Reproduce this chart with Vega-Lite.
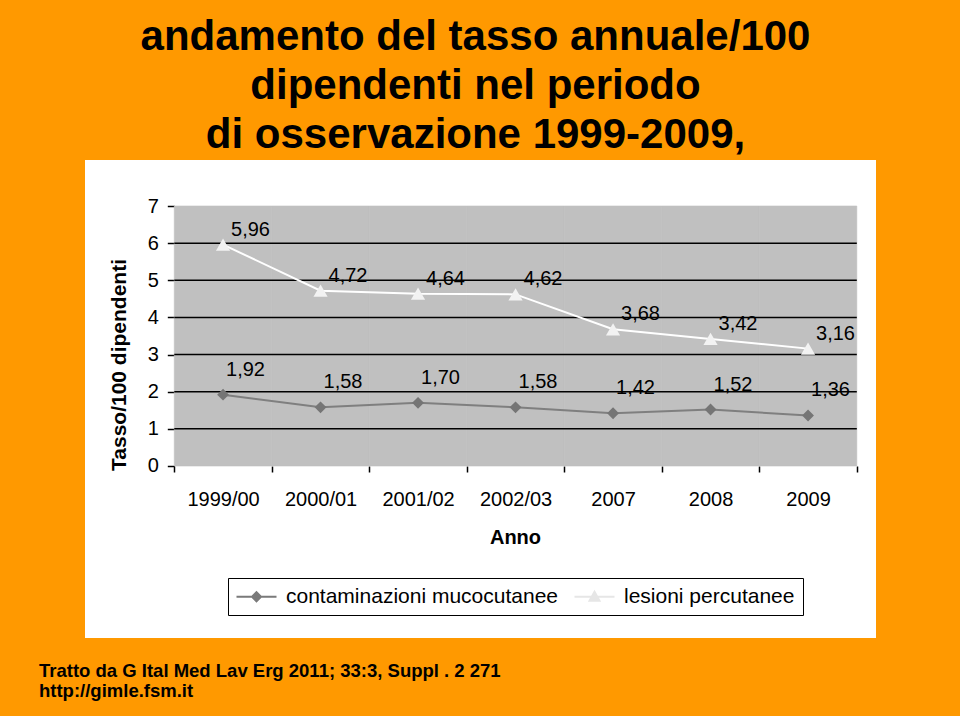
{
  "$schema": "https://vega.github.io/schema/vega-lite/v6.json",
  "autosize": {"type": "none"},
  "padding": {"left": 85, "top": 160, "right": 84, "bottom": 78},
  "width": 791,
  "height": 478,
  "background": "#FF9900",
  "title": {
    "text": ["andamento del tasso annuale/100", "dipendenti nel periodo", "di osservazione 1999-2009,"],
    "font": "Liberation Sans",
    "fontSize": 42,
    "fontWeight": "bold",
    "color": "#000000",
    "anchor": "middle",
    "frame": "group",
    "baseline": "alphabetic",
    "lineHeight": 49,
    "offset": 10,
    "dx": -5,
    "dy": 40
  },
  "datasets": {
    "tassi": [
      {"anno": "1999/00", "serie": "contaminazioni mucocutanee", "tasso": 1.92},
      {"anno": "2000/01", "serie": "contaminazioni mucocutanee", "tasso": 1.58},
      {"anno": "2001/02", "serie": "contaminazioni mucocutanee", "tasso": 1.70},
      {"anno": "2002/03", "serie": "contaminazioni mucocutanee", "tasso": 1.58},
      {"anno": "2007", "serie": "contaminazioni mucocutanee", "tasso": 1.42},
      {"anno": "2008", "serie": "contaminazioni mucocutanee", "tasso": 1.52},
      {"anno": "2009", "serie": "contaminazioni mucocutanee", "tasso": 1.36},
      {"anno": "1999/00", "serie": "lesioni percutanee", "tasso": 5.96},
      {"anno": "2000/01", "serie": "lesioni percutanee", "tasso": 4.72},
      {"anno": "2001/02", "serie": "lesioni percutanee", "tasso": 4.64},
      {"anno": "2002/03", "serie": "lesioni percutanee", "tasso": 4.62},
      {"anno": "2007", "serie": "lesioni percutanee", "tasso": 3.68},
      {"anno": "2008", "serie": "lesioni percutanee", "tasso": 3.42},
      {"anno": "2009", "serie": "lesioni percutanee", "tasso": 3.16}
    ],
    "griglia": [{"v": 1}, {"v": 2}, {"v": 3}, {"v": 4}, {"v": 5}, {"v": 6}],
    "vuoto": []
  },
  "data": {"name": "tassi"},
  "encoding": {
    "x": {
      "field": "anno",
      "type": "nominal",
      "sort": null,
      "title": "Anno",
      "scale": {
        "type": "band",
        "domain": ["1999/00", "2000/01", "2001/02", "2002/03", "2007", "2008", "2009"],
        "paddingInner": 0,
        "paddingOuter": 0.5564,
        "align": 0.823
      },
      "axis": {
        "title": "Anno",
        "offset": -172,
        "domain": false,
        "grid": false,
        "tickBand": "extent",
        "tickSize": 6,
        "tickColor": "#000000",
        "tickWidth": 1.5,
        "labelAngle": 0,
        "labelFont": "Liberation Sans",
        "labelFontSize": 20,
        "labelColor": "#000000",
        "labelPadding": 17,
        "labelOverlap": false,
        "titleFont": "Liberation Sans",
        "titleFontSize": 20,
        "titleFontWeight": "bold",
        "titleColor": "#000000",
        "titleX": 430,
        "titleY": 77,
        "titleBaseline": "alphabetic",
        "titleAlign": "center"
      }
    },
    "y": {
      "field": "tasso",
      "type": "quantitative",
      "title": "Tasso/100 dipendenti",
      "scale": {"domain": [-4.631, 8.2385], "nice": false, "zero": false},
      "axis": {
        "title": "Tasso/100 dipendenti",
        "values": [0, 1, 2, 3, 4, 5, 6, 7],
        "format": "d",
        "offset": -89.3,
        "domain": false,
        "grid": false,
        "tickSize": 7,
        "tickColor": "#000000",
        "tickWidth": 1.5,
        "labelFont": "Liberation Sans",
        "labelFontSize": 20,
        "labelColor": "#000000",
        "labelPadding": 9,
        "labelFlush": false,
        "labelOverlap": false,
        "titleFont": "Liberation Sans",
        "titleFontSize": 21,
        "titleFontWeight": "bold",
        "titleColor": "#000000",
        "titleAngle": -90,
        "titleX": -48.8,
        "titleY": 204.5,
        "titleBaseline": "alphabetic",
        "titleAlign": "center"
      }
    }
  },
  "layer": [
    {
      "transform": [{"filter": "datum.serie === 'lesioni percutanee'"}],
      "mark": {"type": "bar", "fill": "#c0c0c0", "stroke": "#c0c0c0", "strokeWidth": 0.6},
      "encoding": {
        "y": {"datum": 7, "type": "quantitative"},
        "y2": {"datum": 0}
      }
    },
    {
      "data": {"name": "griglia"},
      "mark": {"type": "rule", "color": "#000000", "strokeWidth": 1.5},
      "encoding": {
        "x": {"datum": "1999/00", "type": "nominal", "bandPosition": 0},
        "x2": {"datum": "2009", "bandPosition": 1},
        "y": {"field": "v", "type": "quantitative", "title": "Tasso/100 dipendenti"}
      }
    },
    {
      "data": {"values": [{"bordo": "alto"}]},
      "mark": {"type": "rule", "color": "#a0a0a0", "strokeWidth": 1.5},
      "encoding": {
        "x": {"datum": "1999/00", "type": "nominal", "bandPosition": 0},
        "x2": {"datum": "2009", "bandPosition": 1},
        "y": {"datum": 7, "type": "quantitative"}
      }
    },
    {
      "data": {"values": [{"bordo": "destra"}]},
      "mark": {"type": "rule", "color": "#8a8a8a", "strokeWidth": 1.5},
      "encoding": {
        "x": {"datum": "2009", "type": "nominal", "bandPosition": 1},
        "y": {"datum": 0, "type": "quantitative"},
        "y2": {"datum": 7}
      }
    },
    {
      "data": {"values": [{"bordo": "asse x"}]},
      "mark": {"type": "rule", "color": "#000000", "strokeWidth": 2},
      "encoding": {
        "x": {"datum": "1999/00", "type": "nominal", "bandPosition": 0},
        "x2": {"datum": "2009", "bandPosition": 1},
        "y": {"datum": 0, "type": "quantitative"}
      }
    },
    {
      "data": {"values": [{"bordo": "asse y"}]},
      "mark": {"type": "rule", "color": "#000000", "strokeWidth": 2},
      "encoding": {
        "x": {"datum": "1999/00", "type": "nominal", "bandPosition": 0},
        "y": {"datum": 0, "type": "quantitative"},
        "y2": {"datum": 7}
      }
    },
    {
      "transform": [{"filter": "datum.serie === 'contaminazioni mucocutanee'"}],
      "mark": {"type": "line", "color": "#7f7f7f", "strokeWidth": 2}
    },
    {
      "transform": [{"filter": "datum.serie === 'lesioni percutanee'"}],
      "mark": {"type": "line", "color": "#ffffff", "strokeWidth": 2}
    },
    {
      "transform": [{"filter": "datum.serie === 'contaminazioni mucocutanee'"}],
      "mark": {"type": "point", "shape": "diamond", "filled": true, "size": 140, "color": "#757575", "opacity": 1}
    },
    {
      "transform": [{"filter": "datum.serie === 'lesioni percutanee'"}],
      "mark": {"type": "point", "shape": "triangle-up", "filled": true, "size": 200, "color": "#f2f2f2", "opacity": 1}
    },
    {
      "transform": [{"filter": "datum.serie === 'contaminazioni mucocutanee'"}],
      "mark": {"type": "text", "align": "left", "baseline": "middle", "dx": 3, "dy": -25, "font": "Liberation Sans", "fontSize": 20, "color": "#000000"},
      "encoding": {"text": {"field": "tasso", "type": "quantitative", "format": ".2f"}}
    },
    {
      "transform": [{"filter": "datum.serie === 'lesioni percutanee'"}],
      "mark": {"type": "text", "align": "left", "baseline": "middle", "dx": 8, "dy": -15, "font": "Liberation Sans", "fontSize": 20, "color": "#000000"},
      "encoding": {"text": {"field": "tasso", "type": "quantitative", "format": ".2f"}}
    },
    {
      "data": {"name": "vuoto"},
      "mark": {"type": "point", "filled": true, "opacity": 1, "strokeWidth": 2, "size": 100},
      "encoding": {
        "fill": {
          "field": "serie",
          "type": "nominal",
          "scale": {"domain": ["contaminazioni mucocutanee", "lesioni percutanee"], "range": ["#7a7a7a", "#e6e6e6"]},
          "legend": {
            "title": null,
            "orient": "none",
            "legendX": 143,
            "legendY": 418,
            "direction": "horizontal",
            "fillColor": "#ffffff",
            "strokeColor": "#000000",
            "padding": 8,
            "columnPadding": 12,
            "labelOffset": 29,
            "labelFont": "Liberation Sans",
            "labelFontSize": 21,
            "labelColor": "#000000",
            "labelLimit": 400,
            "symbolSize": 100,
            "symbolStrokeWidth": 2,
            "symbolOpacity": 1
          }
        },
        "stroke": {
          "field": "serie",
          "type": "nominal",
          "scale": {"domain": ["contaminazioni mucocutanee", "lesioni percutanee"], "range": ["#7a7a7a", "#e6e6e6"]}
        },
        "shape": {
          "field": "serie",
          "type": "nominal",
          "scale": {
            "domain": ["contaminazioni mucocutanee", "lesioni percutanee"],
            "range": ["M-2,0H6M2,-0.9L2.9,0L2,0.9L1.1,0Z", "M-2,0H6M2,-1L3,0.8L1,0.8Z"]
          }
        }
      }
    },
    {
      "data": {"name": "vuoto"},
      "mark": {"type": "point", "filled": true, "opacity": 1},
      "encoding": {
        "color": {
          "field": "fonte",
          "type": "nominal",
          "scale": {"domain": ["fonte"], "range": ["#000000"]},
          "legend": {
            "title": ["Tratto da G Ital Med Lav Erg 2011; 33:3, Suppl . 2 271", "http://gimle.fsm.it"],
            "orient": "none",
            "legendX": -46,
            "legendY": 501.7,
            "padding": 0,
            "titleFont": "Liberation Sans",
            "titleFontSize": 18.5,
            "titleFontWeight": "bold",
            "titleColor": "#000000",
            "titleLineHeight": 20.5,
            "titleLimit": 800,
            "titleBaseline": "top",
            "titleAlign": "left",
            "symbolOpacity": 0,
            "labelOpacity": 0,
            "symbolSize": 1,
            "labelFontSize": 1
          }
        }
      }
    }
  ],
  "config": {
    "view": {"stroke": null, "fill": "#ffffff"},
    "locale": {
      "number": {"decimal": ",", "thousands": ".", "grouping": [3], "currency": ["", " €"]}
    }
  }
}
